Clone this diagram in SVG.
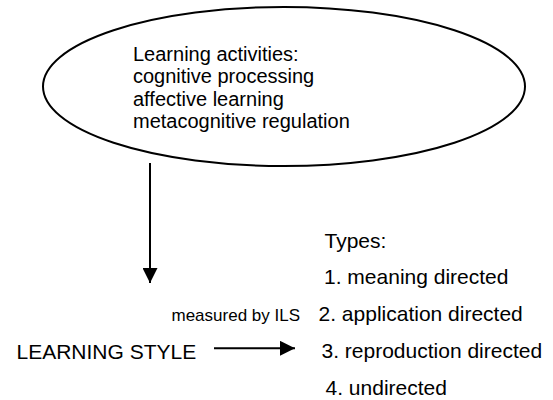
<svg xmlns="http://www.w3.org/2000/svg" width="553" height="400" viewBox="0 0 553 400">
  <style>
    text { font-family: "Liberation Sans", Arial, sans-serif; fill: #000; }
    .t20 { font-size: 20px; }
    .t21 { font-size: 21px; }
    .t17 { font-size: 17px; }
    .edge { stroke: #000; stroke-width: 2; fill: none; }
    .shape { stroke: #000; stroke-width: 2; fill: #fff; }
  </style>
  <defs>
    <marker id="arrow" viewBox="0 0 15 15" refX="15" refY="7.5" markerWidth="15" markerHeight="15" markerUnits="userSpaceOnUse" orient="auto">
      <path d="M0,0 L15,7.5 L0,15 Z" fill="#000"/>
    </marker>
  </defs>
  <rect width="553" height="400" fill="#fff"/>

  <g id="node-learning-activities">
    <ellipse class="shape" cx="284" cy="86.5" rx="241" ry="79.5"/>
    <text class="t20" x="133" y="60.5">Learning activities:</text>
    <text class="t20" x="133" y="83">cognitive processing</text>
    <text class="t20" x="133" y="105.5">affective learning</text>
    <text class="t20" x="133" y="128">metacognitive regulation</text>
  </g>

  <g id="node-learning-style">
    <text class="t21" x="16.5" y="358.5">LEARNING STYLE</text>
  </g>

  <g id="label-measured">
    <text class="t17" x="171.5" y="321">measured by ILS</text>
  </g>

  <g id="node-types">
    <text class="t21" x="324.5" y="247.5">Types:</text>
    <text class="t21" x="324" y="284">1. meaning directed</text>
    <text class="t21" x="318.5" y="321">2. application directed</text>
    <text class="t21" x="321.5" y="358">3. reproduction directed</text>
    <text class="t21" x="325.5" y="394.5">4. undirected</text>
  </g>

  <g id="connectors">
    <line class="edge" x1="150" y1="163" x2="150" y2="283" marker-end="url(#arrow)"/>
    <line class="edge" x1="214" y1="348.3" x2="295" y2="348.3" marker-end="url(#arrow)"/>
  </g>
</svg>
